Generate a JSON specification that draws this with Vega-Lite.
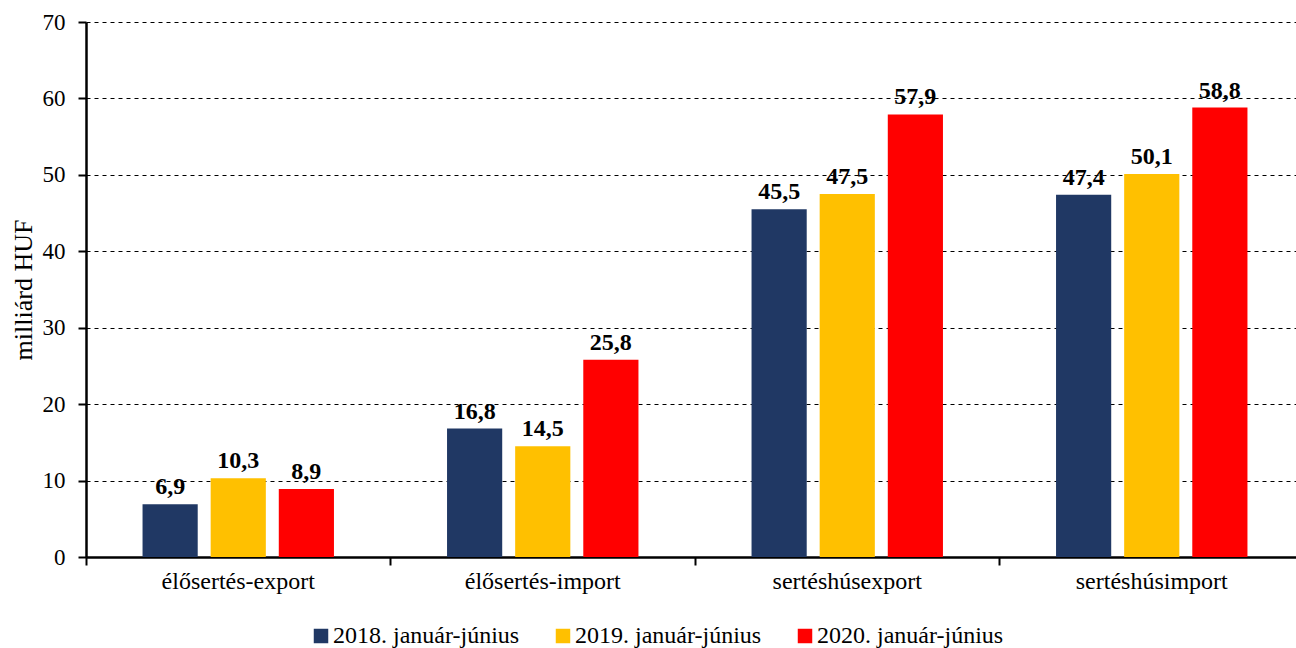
{
  "$schema": "https://vega.github.io/schema/vega-lite/v6.json",
  "autosize": "none",
  "width": 1218,
  "height": 535,
  "padding": {"left": 86, "top": 22, "right": 0, "bottom": 91},
  "background": "white",
  "config": {
    "locale": {"number": {"decimal": ",", "thousands": " ", "grouping": [3], "currency": ["", ""]}},
    "font": "Liberation Serif",
    "view": {"stroke": null}
  },
  "data": {
    "values": [
      {"kat": "élősertés-export", "ev": "2018. január-június", "ertek": 6.9},
      {"kat": "élősertés-export", "ev": "2019. január-június", "ertek": 10.3},
      {"kat": "élősertés-export", "ev": "2020. január-június", "ertek": 8.9},
      {"kat": "élősertés-import", "ev": "2018. január-június", "ertek": 16.8},
      {"kat": "élősertés-import", "ev": "2019. január-június", "ertek": 14.5},
      {"kat": "élősertés-import", "ev": "2020. január-június", "ertek": 25.8},
      {"kat": "sertéshúsexport", "ev": "2018. január-június", "ertek": 45.5},
      {"kat": "sertéshúsexport", "ev": "2019. január-június", "ertek": 47.5},
      {"kat": "sertéshúsexport", "ev": "2020. január-június", "ertek": 57.9},
      {"kat": "sertéshúsimport", "ev": "2018. január-június", "ertek": 47.4},
      {"kat": "sertéshúsimport", "ev": "2019. január-június", "ertek": 50.1},
      {"kat": "sertéshúsimport", "ev": "2020. január-június", "ertek": 58.8}
    ]
  },
  "encoding": {
    "x": {
      "field": "kat", "type": "nominal", "sort": null,
      "scale": {"paddingInner": 0, "paddingOuter": 0},
      "axis": {
        "title": null, "labelAngle": 0, "labelFontSize": 24, "labelColor": "black",
        "labelFont": "Liberation Serif", "labelPadding": 4,
        "domainColor": "black", "domainWidth": 2.5,
        "tickColor": "black", "tickWidth": 2, "tickSize": 8, "bandPosition": 0,
        "grid": false
      }
    },
    "xOffset": {
      "field": "ev", "type": "nominal", "sort": null,
      "scale": {"paddingInner": 0.19, "paddingOuter": 0.83}
    },
    "y": {
      "field": "ertek", "type": "quantitative",
      "scale": {"domain": [0, 70], "nice": false},
      "axis": {
        "title": "milliárd HUF", "titleFontSize": 26, "titleFont": "Liberation Serif",
        "titleFontWeight": "normal", "titleColor": "black", "titlePadding": 6,
        "values": [0, 10, 20, 30, 40, 50, 60, 70],
        "labelFontSize": 23, "labelColor": "black", "labelFont": "Liberation Serif", "labelPadding": 13,
        "domainColor": "black", "domainWidth": 2.5,
        "tickColor": "black", "tickWidth": 2, "tickSize": 8,
        "grid": true, "gridColor": "black", "gridDash": [4, 4], "gridWidth": 1
      }
    }
  },
  "layer": [
    {
      "mark": {"type": "bar"},
      "encoding": {
        "color": {
          "field": "ev", "type": "nominal", "sort": null,
          "scale": {"range": ["#203864", "#FFC000", "#FF0000"]},
          "legend": {
            "title": null, "orient": "none", "direction": "horizontal",
            "legendX": 223, "legendY": 602,
            "symbolType": "square", "symbolSize": 210, "symbolStrokeWidth": 0,
            "labelFontSize": 24, "labelFont": "Liberation Serif", "labelColor": "black",
            "labelOffset": 0, "columnPadding": 31, "labelLimit": 300
          }
        }
      }
    },
    {
      "mark": {"type": "text", "baseline": "alphabetic", "dy": -10, "fontSize": 24, "fontWeight": "bold", "font": "Liberation Serif", "color": "black"},
      "encoding": {
        "text": {"field": "ertek", "type": "quantitative", "format": ".1f"}
      }
    }
  ]
}
